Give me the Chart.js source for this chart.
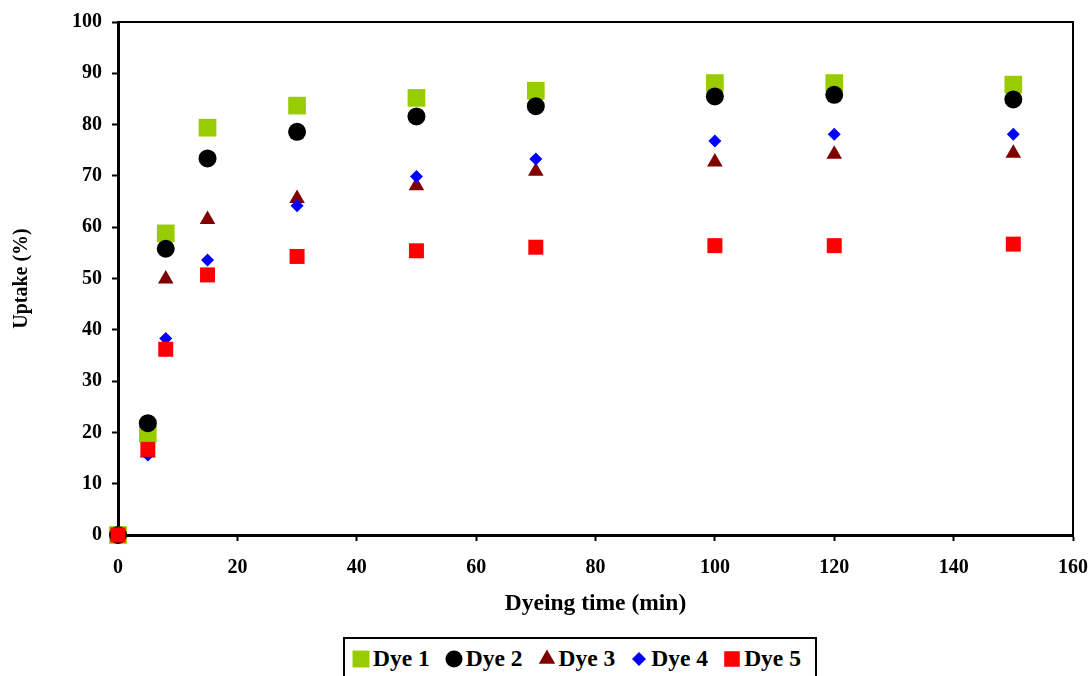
<!DOCTYPE html>
<html>
<head>
<meta charset="utf-8">
<script src="https://cdn.jsdelivr.net/npm/chart.js@4.4.1/dist/chart.umd.min.js"></script>
<style>
  html, body { margin: 0; padding: 0; background: #fff; overflow: hidden; }
  #wrap { position: relative; width: 1089px; height: 676px; }
  #legend {
    position: absolute; left: 343px; top: 637px; height: 43px;
    box-sizing: border-box; border: 2px solid #000; background: #fff;
    display: flex; align-items: center; padding: 0 14px 0 7px;
    font: bold 23.5px "Liberation Serif", "Times New Roman", serif; color: #000;
  }
  #legend .item { display: flex; align-items: center; margin-right: 15px; }
  #legend .item:last-child { margin-right: 0; }
  #legend canvas { margin-right: 3px; }
</style>
</head>
<body>
<div id="wrap">
  <canvas id="uptakeChart"></canvas>
  <div id="legend"></div>
</div>
<script>
// ── data ──
const times = [0, 5, 8, 15, 30, 50, 70, 100, 120, 150];
const dye1 = [0, 19.8, 58.8, 79.4, 83.7, 85.2, 86.6, 88.1, 88.1, 87.8];
const dye2 = [0, 21.8, 55.8, 73.4, 78.6, 81.6, 83.6, 85.5, 85.8, 84.9];
const dye3 = [0, 16.0, 49.9, 61.5, 65.6, 68.1, 70.9, 72.7, 74.2, 74.4];
const dye4 = [0, 15.6, 38.3, 53.6, 64.2, 69.9, 73.3, 76.8, 78.1, 78.1];
const dye5 = [0, 16.7, 36.2, 50.7, 54.3, 55.4, 56.1, 56.4, 56.4, 56.7];
const seriesNames = ['Dye 1', 'Dye 2', 'Dye 3', 'Dye 4', 'Dye 5'];
const xTicks = [0, 20, 40, 60, 80, 100, 120, 140, 160];
const yTicks = [0, 10, 20, 30, 40, 50, 60, 70, 80, 90, 100];

// ── marker styles (Excel-like) ──
const STYLES = [
  { color: '#99cc00', pointStyle: 'rect',     radius: 12.5, legendRadius: 12 },
  { color: '#000000', pointStyle: 'circle',   radius: 9,    legendRadius: 8.5 },
  { color: '#800000', pointStyle: 'triangle', radius: 9,    legendRadius: 9.5 },
  { color: '#0000ff', pointStyle: 'rectRot',  radius: 6.5,  legendRadius: 7 },
  { color: '#ff0000', pointStyle: 'rect',     radius: 10.6, legendRadius: 11 }
];

const FONT = '"Liberation Serif", "Times New Roman", serif';
const series = [dye1, dye2, dye3, dye4, dye5];

const datasets = series.map((vals, i) => ({
  label: seriesNames[i],
  data: vals.map((v, j) => ({ x: times[j], y: v })),
  pointStyle: STYLES[i].pointStyle,
  pointRadius: STYLES[i].radius,
  pointHoverRadius: STYLES[i].radius,
  pointBackgroundColor: STYLES[i].color,
  pointBorderColor: STYLES[i].color,
  pointBorderWidth: 0,
  showLine: false,
  clip: false,
  order: series.length - 1 - i   // later series on top, like Excel
}));

// top + right frame of the plot area
const frame = {
  id: 'frame',
  beforeDatasetsDraw(chart) {
    const { ctx, chartArea: a } = chart;
    ctx.save();
    ctx.strokeStyle = '#000';
    ctx.lineWidth = 2;
    ctx.beginPath();
    ctx.moveTo(a.left, a.top);
    ctx.lineTo(a.right, a.top);
    ctx.lineTo(a.right, a.bottom);
    ctx.stroke();
    ctx.restore();
  }
};

const axisCommon = {
  grid: { drawOnChartArea: false, drawTicks: true, tickLength: 6, tickColor: '#000', tickWidth: 2 },
  border: { display: true, color: '#000', width: 3 }
};

new Chart(document.getElementById('uptakeChart'), {
  type: 'scatter',
  data: { datasets },
  options: {
    responsive: true,
    maintainAspectRatio: false,
    animation: false,
    layout: { padding: { left: 0, top: 21, right: 16, bottom: 0 } },
    plugins: { legend: { display: false }, tooltip: { enabled: false } },
    scales: {
      x: {
        ...axisCommon,
        type: 'linear', min: 0, max: 160,
        afterBuildTicks: s => { s.ticks = xTicks.map(v => ({ value: v })); },
        afterFit: s => { s.height = 141; s.paddingRight = 16; },
        ticks: { color: '#000', padding: 15, maxRotation: 0, font: { family: FONT, size: 20, weight: 'bold' } },
        title: { display: true, text: 'Dyeing time (min)', color: '#000',
          padding: { top: 0, bottom: 58 }, font: { family: FONT, size: 23.5, weight: 'bold' } }
      },
      y: {
        ...axisCommon,
        type: 'linear', min: 0, max: 100,
        afterBuildTicks: s => { s.ticks = yTicks.map(v => ({ value: v })); },
        afterFit: s => { s.width = 118; },
        ticks: { color: '#000', padding: 10, font: { family: FONT, size: 20, weight: 'bold' } },
        title: { display: true, text: 'Uptake (%)', color: '#000',
          padding: { top: 10, bottom: 0 }, font: { family: FONT, size: 20, weight: 'bold' } }
      }
    }
  },
  plugins: [frame]
});

// ── HTML legend with the same markers ──
const legend = document.getElementById('legend');
seriesNames.forEach((name, i) => {
  const item = document.createElement('div');
  item.className = 'item';
  const c = document.createElement('canvas');
  c.width = 18; c.height = 22;
  const ctx = c.getContext('2d');
  ctx.fillStyle = STYLES[i].color;
  ctx.strokeStyle = STYLES[i].color;
  Chart.helpers.drawPoint(ctx, { pointStyle: STYLES[i].pointStyle, radius: STYLES[i].legendRadius, rotation: 0, borderWidth: 0 }, 9, 11);
  const span = document.createElement('span');
  span.textContent = name;
  item.appendChild(c);
  item.appendChild(span);
  legend.appendChild(item);
});
</script>
</body>
</html>
